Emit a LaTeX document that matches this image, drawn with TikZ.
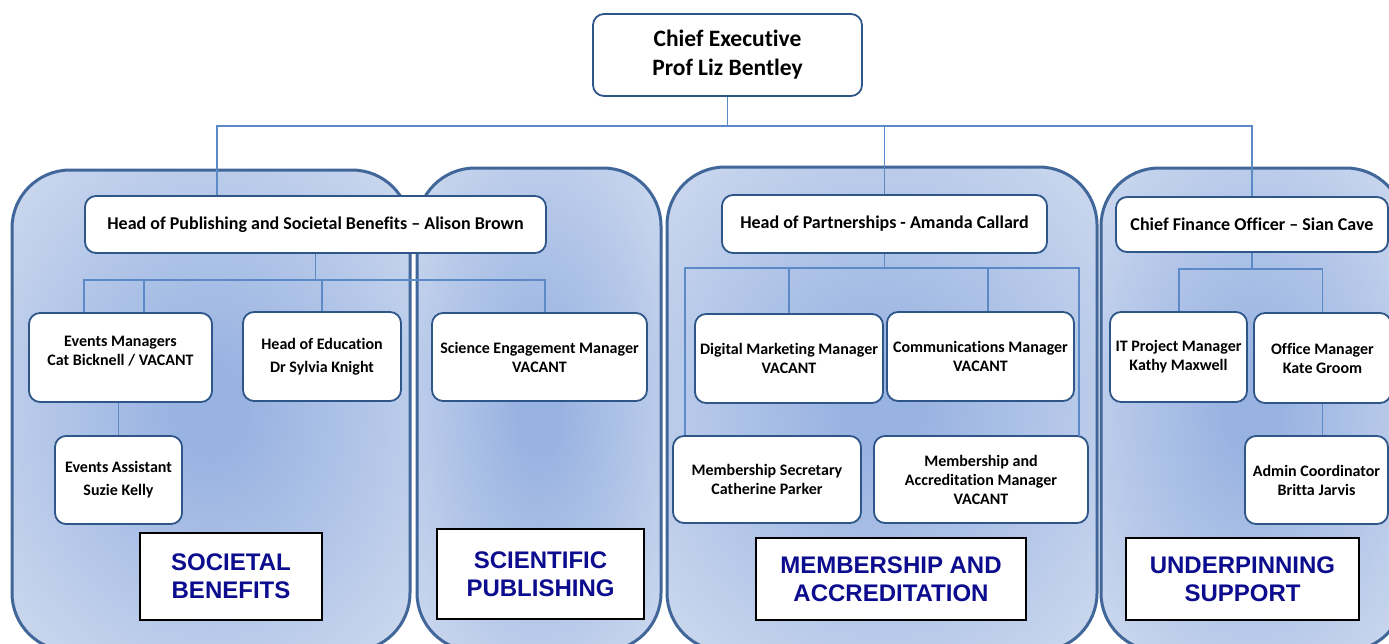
\documentclass[tikz,border=0pt]{standalone}
\usepackage{fontspec}
\setmainfont{Carlito}[Ligatures=NoCommon]
\newfontfamily\tagfont{Liberation Sans}
\usetikzlibrary{calc}
\definecolor{link}{HTML}{5B8AC6}
\definecolor{boxline}{HTML}{2E5688}
\definecolor{panelline}{HTML}{41679A}
\definecolor{glowin}{HTML}{98B2E1}
\definecolor{glowout}{HTML}{DDE5F3}
\definecolor{navy}{HTML}{0C0C8E}
\pgfdeclareradialshading{glow}{\pgfpoint{0bp}{0bp}}{color(0bp)=(glowin); color(4bp)=(glowin); color(45bp)=(glowout); color(50bp)=(glowout)}
\tikzset{
  panel/.style={draw=panelline, line width=3pt, rounded corners=58pt, shading=glow},
  post/.style={draw=boxline, line width=1.8pt, rounded corners=11pt, fill=white, align=center, inner sep=0pt,
    font=\bfseries\fontsize{16}{19}\selectfont},
  head/.style={post, font=\bfseries\fontsize{18}{22}\selectfont},
  tag/.style={draw=black, line width=2pt, fill=white, align=center, inner sep=0pt, text=navy,
    font=\tagfont\bfseries\fontsize{24}{28}\selectfont},
  link/.style={draw=link, line width=1.6pt}
}

\begin{document}
\begin{tikzpicture}[x=1pt, y=-1pt]
\clip (0,0) rectangle (1389,643);

% group panels
\path[panel] (12,170) rectangle (410,651);
\path[panel] (417,168) rectangle (661,651);
\path[panel] (667,167) rectangle (1097,651);
\path[panel] (1101,168) rectangle (1404,651);

% posts
\node[post, minimum width=269, minimum height=82, font=\bfseries\fontsize{23.5}{29}\selectfont] (ceo) at (727.5,55) {Chief Executive\\Prof Liz Bentley};

\node[head, minimum width=461, minimum height=57] (hop) at (315.5,224.5) {Head of Publishing and Societal Benefits -- Alison Brown};
\node[post, minimum width=183, minimum height=89, text depth=14pt] (em) at (120.5,357.5) {Events Managers\\Cat Bicknell / VACANT};
\node[post, minimum width=158, minimum height=89] (hoe) at (322,356.5) {Head of Education\\[4pt]Dr Sylvia Knight};
\node[post, minimum width=127, minimum height=88] (ea) at (118.5,480) {Events Assistant\\[4pt]Suzie Kelly};
\node[post, minimum width=215, minimum height=88] (sem) at (539.5,357) {Science Engagement Manager\\VACANT};

\node[head, minimum width=325, minimum height=58] (hpa) at (884.5,224) {Head of Partnerships - Amanda Callard};
\node[post, minimum width=188, minimum height=89] (dmm) at (789,358.5) {Digital Marketing Manager\\VACANT};
\node[post, minimum width=187, minimum height=89] (cm) at (980.5,356.5) {Communications Manager\\VACANT};
\node[post, minimum width=188, minimum height=87] (ms) at (767,479.5) {Membership Secretary\\Catherine Parker};
\node[post, minimum width=214, minimum height=87] (mam) at (981,479.5) {Membership and\\Accreditation Manager\\VACANT};

\node[head, minimum width=272, minimum height=55] (cfo) at (1252,224.5) {Chief Finance Officer -- Sian Cave};
\node[post, minimum width=137, minimum height=90] (itpm) at (1178.5,357) {IT Project Manager\\Kathy Maxwell};
\node[post, minimum width=137, minimum height=90] (om) at (1322.5,358) {Office Manager\\Kate Groom};
\node[post, minimum width=143, minimum height=88] (ac) at (1316.5,480) {Admin Coordinator\\Britta Jarvis};

% group names
\node[tag, minimum width=182, minimum height=87] (sb) at (231,576.5) {SOCIETAL\\BENEFITS};
\node[tag, minimum width=207, minimum height=90] (sp) at (540.5,574) {SCIENTIFIC\\PUBLISHING};
\node[tag, minimum width=270, minimum height=82] (ma) at (891,579) {MEMBERSHIP AND\\ACCREDITATION};
\node[tag, minimum width=233, minimum height=82] (us) at (1242.5,579) {UNDERPINNING\\SUPPORT};

% junctions
\coordinate (top) at (217,126);
\coordinate (pubbus) at (84,280);
\coordinate (pubdrop) at (144,280);
\coordinate (pubend) at (545,280);
\coordinate (partbus) at (685,268);
\coordinate (partdrop) at (988,268);
\coordinate (partend) at (1079,268);
\coordinate (finbus) at (1179,269);

% connectors
\draw[link] (ceo.south) -- (ceo.south |- top);
\draw[link] (top |- hop.north) -- (top) -- (cfo.north |- top) -- (cfo.north);
\draw[link] (hpa.north) -- (hpa.north |- top);

\draw[link] (hop.south) -- (hop.south |- pubbus);
\draw[link] (pubbus |- em.north) -- (pubbus) -- (pubend) -- (pubend |- sem.north);
\draw[link] (pubdrop) -- (pubdrop |- em.north);
\draw[link] (hoe.north |- pubbus) -- (hoe.north);
\draw[link] (ea.north |- em.south) -- (ea.north);

\draw[link] (hpa.south) -- (hpa.south |- partbus);
\draw[link] (partbus |- ms.north) -- (partbus) -- (partend) -- (partend |- mam.north);
\draw[link] (dmm.north |- partbus) -- (dmm.north);
\draw[link] (partdrop) -- (partdrop |- cm.north);

\draw[link] (cfo.south) -- (cfo.south |- finbus);
\draw[link] (finbus |- itpm.north) -- (finbus) -- (om.north |- finbus) -- (om.north);
\draw[link] (om.south) -- (om.south |- ac.north);
\end{tikzpicture}
\end{document}
